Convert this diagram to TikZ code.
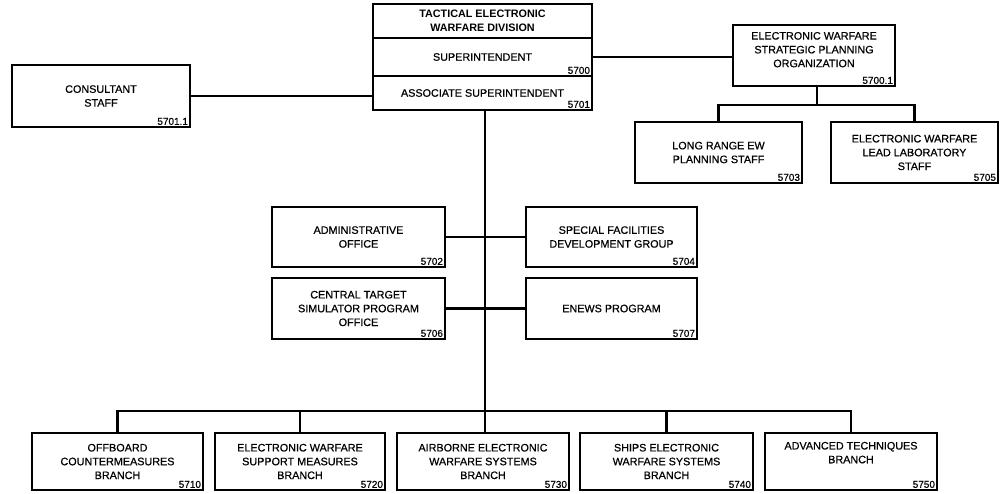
\documentclass[tikz,border=0pt]{standalone}
\usepackage{fontspec}
\setmainfont{Liberation Sans}
\newfontface\medface{Liberation Sans}[FakeBold=0.6]
\newcommand\titlefont{\rmfamily\bfseries}
\tikzset{
  orgbox/.style={draw, line width=1.3pt, inner sep=0pt, align=center,
    font=\medface\fontsize{10.8}{13.8}\selectfont},
  numlabel/.style={inner sep=2.5pt, anchor=south east, font=\medface\fontsize{10}{11}\selectfont},
  conn/.style={line width=2.1pt}
}
\newcommand\orgnode[7]{%
  \node[orgbox, minimum width={(#4-#2)*1pt}, minimum height={(#5-#3)*1pt}] (#1) at ({(#2+#4)/2},{(#3+#5)/2}) {#6};
  \node[numlabel] (#1-n) at (#1.south east) {#7};
}
\begin{document}
\begin{tikzpicture}[x=1pt,y=-1pt]
\useasboundingbox[fill=white] (0,0) rectangle (1003,493);
% top stacked box
\orgnode{title}{373}{4}{592}{38}{{\titlefont TACTICAL ELECTRONIC}\\{\titlefont WARFARE DIVISION}}{}
\orgnode{sup}{373}{38}{592}{76}{SUPERINTENDENT}{5700}
\orgnode{assoc}{373}{76}{592}{110}{ASSOCIATE SUPERINTENDENT}{5701}
% consultant
\orgnode{consult}{12}{65}{190}{127}{CONSULTANT\\STAFF}{5701.1}
% strategic
\orgnode{strat}{733}{25}{895}{86}{ELECTRONIC WARFARE\\STRATEGIC PLANNING\\ORGANIZATION\\[-2pt]\mbox{}}{5700.1}
\orgnode{longr}{635}{122}{802}{183}{LONG RANGE EW\\PLANNING STAFF}{5703}
\orgnode{lead}{831}{122}{998}{183}{ELECTRONIC WARFARE\\LEAD LABORATORY\\STAFF}{5705}
% middle
\orgnode{admin}{272}{207}{445}{267}{ADMINISTRATIVE\\OFFICE}{5702}
\orgnode{special}{526}{207}{697}{267}{SPECIAL FACILITIES\\DEVELOPMENT GROUP}{5704}
\orgnode{central}{272}{278}{445}{339}{CENTRAL TARGET\\SIMULATOR PROGRAM\\OFFICE}{5706}
\orgnode{enews}{526}{278}{697}{339}{ENEWS PROGRAM}{5707}
% bottom
\orgnode{b1}{32}{433}{203}{490}{OFFBOARD\\COUNTERMEASURES\\BRANCH}{5710}
\orgnode{b2}{215}{433}{385}{490}{ELECTRONIC WARFARE\\SUPPORT MEASURES\\BRANCH}{5720}
\orgnode{b3}{397}{433}{569}{490}{AIRBORNE ELECTRONIC\\WARFARE SYSTEMS\\BRANCH}{5730}
\orgnode{b4}{580}{433}{753}{490}{SHIPS ELECTRONIC\\WARFARE SYSTEMS\\BRANCH}{5740}
\orgnode{b5}{765}{433}{937}{490}{ADVANCED TECHNIQUES\\BRANCH\\[4pt]\mbox{}}{5750}
% connectors
\coordinate (bus) at (485,411);
\coordinate (sbus) at (817,105);
\draw[conn] (consult.east) -- (consult.east -| assoc.west);
\draw[conn] (sup.east) -- (sup.east -| strat.west);
\draw[conn] (strat.south -| sbus) -- (sbus);
\draw[conn] (longr.north) |- (sbus) -| (lead.north);
\draw[conn] (assoc.south -| bus) -- (bus);
\draw[conn] (admin.east) -- (special.west);
\draw[conn] (central.east) -- (enews.west);
\draw[conn] (b1.north) |- (bus) -| (b5.north);
\draw[conn] (b2.north) -- (b2.north |- bus);
\draw[conn] (b3.north -| bus) -- (bus);
\draw[conn] (b4.north) -- (b4.north |- bus);
\end{tikzpicture}
\end{document}
